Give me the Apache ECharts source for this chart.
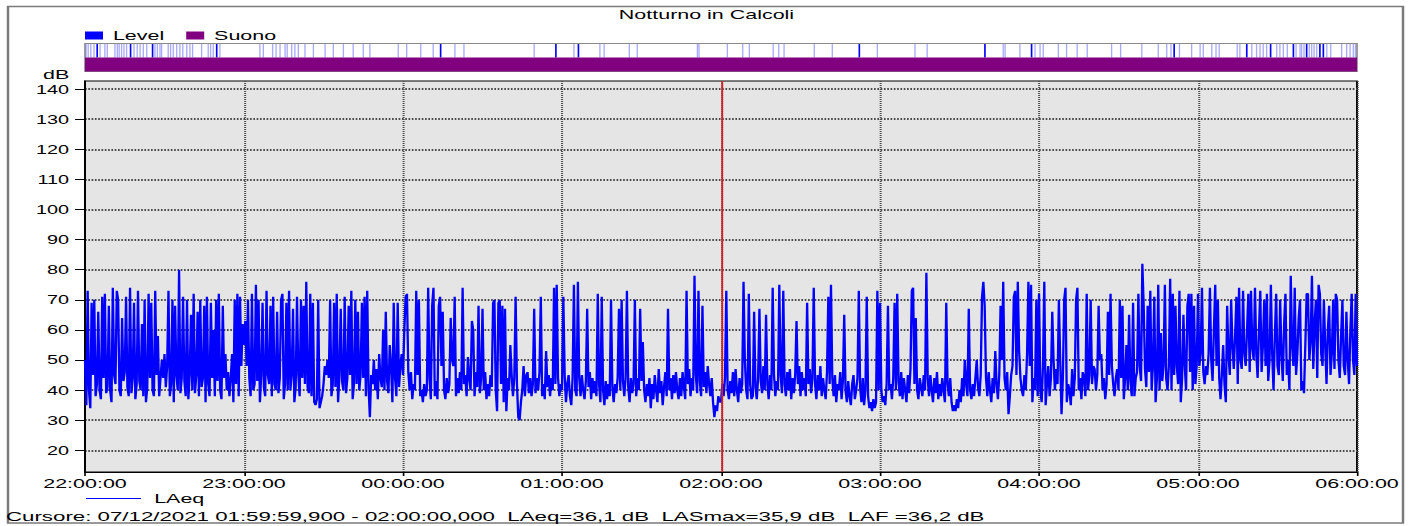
<!DOCTYPE html>
<html>
<head>
<meta charset="utf-8">
<script src="https://cdn.jsdelivr.net/npm/echarts@6/dist/echarts.min.js"></script>
<style>
html,body{margin:0;padding:0;background:#fff;overflow:hidden;}
#wrap{width:1413px;height:526px;overflow:hidden;background:#fff;position:relative;}
#chart{width:856px;height:526px;transform:scaleX(1.6507009);transform-origin:0 0;}
</style>
</head>
<body>
<div id="wrap"><div id="chart"></div></div>
<script>
// ---------------- DATA ----------------
const chartTitle = 'Notturno in Calcoli';
const cursorText = 'Cursore: 07/12/2021 01:59:59,900 - 02:00:00,000  LAeq=36,1 dB  LASmax=35,9 dB  LAF =36,2 dB';
const yTicks = [20, 30, 40, 50, 60, 70, 80, 90, 100, 110, 120, 130, 140];
const startHour = 22;            // x axis starts at 22:00:00
const stepMin = 0.5;             // one LAeq value every 30 s
const cursorMin = 240;           // cursor at 02:00:00

// LAeq (dB), one array per hour, 30 s resolution
const h22 = [50,35,73,40,34,69,45,70,38,42,
66,40,37,71,44,72,39,41,68,40,
36,74,45,42,73,70,40,38,64,43,
46,71,41,38,74,39,44,69,37,42,
73,43,40,62,38,70,36,41,72,44,
69,40,38,73,45,58,38,44,
50,44,52,41,48,
73,38,42,70,36,68,45,40,80,39,
44,71,43,38,70,37,45,65,40,72,
39,45,66,38,70,41,44,68,36,71,
42,38,69,44,60,38,70,43,72,40,
37,68,44,52,40,46,38,44,52,36,
70,42,72,38,71,48,62];
const h23 = [55,63,48,70,44,
38,72,40,42,75,43,70,36,45,69,
41,38,73,45,42,68,38,71,42,40,
66,39,44,70,72,37,42,69,40,73,
40,45,67,36,41,71,45,38,70,44,
68,42,76,41,39,
72,38,69,36,35,37,70,34,36,38,
42,48,45,50,44,
70,38,42,69,41,72,36,45,67,43,
40,71,39,44,68,45,73,37,42,70,
42,66,40,45,69,44,71,38,73,41,
31,45,42,50,40,47,37,52,44,41,
60,40,66,43,39,55,48,36,69,44,38,69,41,48,52];
const h00 = [45,60,71,72,46,40,46,37,42,40,
73,45,70,38,40,36,42,38,40,74,
44,37,68,74,38,43,37,68,71,48,
66,40,37,44,39,42,64,50,48,71,
38,44,39,46,40,74,42,45,38,51,
44,40,63,60,38,46,41,68,39,44,
67,40,46,37,42,38,45,41,69,70,
40,33,69,70,42,68,36,67,33,44,
40,55,45,38,44,71,42,31,30,36,
40,48,38,45,46,39,44,38,42,67,
39,44,40,46,71,38,42,37,53,41,
45,38,44,40,74,42,75,44,38,42];
const h01 = [40,71,45,36,42,45,38,35,44,75,
40,38,76,44,38,45,40,37,43,67,
41,46,37,44,39,43,38,72,42,36,
71,40,35,43,37,42,38,70,41,36,
42,39,44,67,40,70,43,38,44,73,
41,36,44,39,42,70,38,44,40,67,
43,56,40,36,42,38,44,34,42,37,
45,40,36,47,39,43,35,41,46,38,
67,40,44,37,45,39,46,40,37,44,
38,46,41,37,73,42,47,38,44,40,
78,45,39,73,43,38,68,41,46,39,
48,42,38,44,36,31,35,33,38,36];
const h02 = [36,42,38,44,73,40,37,43,39,46,
38,47,40,36,44,39,42,76,50,40,
37,72,42,37,38,66,41,37,44,67,
43,39,48,40,65,42,37,45,40,74,
45,38,43,40,75,45,39,73,42,38,
46,40,47,37,44,39,45,63,42,48,
38,46,40,44,38,69,42,47,39,44,
74,42,37,45,40,48,38,44,40,37,
46,71,42,75,44,38,45,36,42,40,
46,37,43,65,40,36,43,38,35,42,
45,37,40,44,73,41,36,44,35,40,
71,38,34,36,33,37,34,36,73,40];
const h03 = [69,40,36,38,35,42,68,40,42,37,
44,69,40,72,43,38,46,37,44,40,
36,45,39,47,73,74,42,64,40,37,
44,41,38,45,40,79,44,38,45,40,
36,44,39,46,37,42,38,44,40,36,
69,42,38,44,36,33,35,33,37,34,
40,36,44,38,50,42,38,67,40,37,
42,38,44,50,41,38,45,71,76,68,
44,38,46,40,36,44,39,53,42,37,
45,68,50,76,44,40,46,32,38,45,
48,71,73,45,76,53,44,40,38,45,
40,52,76,48,75,36,44,40,70,38];
const h04 = [72,40,36,48,76,35,42,48,38,44,
66,50,40,47,42,70,50,32,44,70,
74,36,42,40,35,47,38,44,70,74,
40,44,37,46,44,38,72,40,45,70,
42,48,47,40,45,68,50,52,40,44,
37,42,66,45,72,48,42,38,44,47,
40,70,44,68,37,44,55,40,65,43,
38,69,38,44,46,72,48,43,82,68,
47,41,68,46,73,40,48,71,36,44,
75,40,59,43,48,75,44,40,48,77,
40,72,45,68,48,42,73,36,44,65,
48,40,68,72,46,72,40,68,42,48];
const h05 = [72,48,52,74,46,42,48,45,52,74,
50,43,60,75,48,70,44,37,45,55,
42,36,68,52,45,70,55,47,58,71,
42,74,50,47,73,52,48,60,72,46,
73,54,50,74,52,44,60,73,46,55,
70,48,72,43,50,75,52,40,58,72,
48,45,70,52,43,62,72,45,50,40,
78,55,48,74,45,52,64,70,40,43,
39,55,72,72,50,56,78,47,62,70,
44,75,72,52,48,70,55,42,60,68,
45,52,70,47,72,70,50,44,58,70,
48,45,66,50,42,60,72,50,45,72];
const h06 = [48];

// "Level" event marks (minutes after 22:00:00)
const levelWeak = [0.4,1.2,2.2,3.4,5.7,7.5,8.4,11.3,12.2,12.9,13.8,14.7,15.7,18.5,19.7,20.8,22.0,23.3,26.4,27.3,28.3,28.9,
31.4,32.3,33.3,34.6,35.8,36.9,38.4,39.6,40.6,44.0,46.5,47.4,48.4,50.9,66.0,67.3,70.8,72.1,73.6,75.5,76.3,78.0,79.2,80.5,
83.0,86.2,90.6,93.7,97.5,101.2,105.0,107.5,118.2,121.4,126.7,131.4,139.6,143.0,169.5,184.5,194.3,195.9,205.4,208.4,
231.1,231.7,242.4,248.2,250.7,259.7,261.8,263.8,275.2,282.0,299.0,313.2,317.8,346.5,347.2,352.8,358.5,360.4,361.6,
367.3,370.4,374.4,378.2,387.4,390.8,398.8,405.0,408.2,409.8,413.0,417.6,420.8,422.0,425.2,426.8,428.0,434.8,435.8,
440.3,442.1,443.4,444.6,445.9,449.7,450.9,452.2,453.7,457.0,458.5,459.1,460.0,462.0,462.9,463.8,464.8,468.6,470.1,
474.2,476.1,477.4,478.6,479.4];
const levelStrong = [4.6,17.2,25.5,49.7,134.2,177.7,186.2,292.2,339.6,357.2,411.0,438.4,447.4,456.0,461.0,466.0,467.3];
// "Suono" span (minutes after 22:00:00)
const suonoSpan = [[0, 480]];

// ---------------- BUILD ----------------
const hours = [h22, h23, h00, h01, h02, h03, h04, h05, h06];
const laeq = [];
let k = 0;
hours.forEach(arr => arr.forEach(v => { laeq.push([k * stepMin, v]); k++; }));

const S = 1413 / 856;             // horizontal stretch of the reference
const X = px => px / S;           // layout helper (reference px -> canvas px)
const FONT = 'Liberation Sans, Arial, Helvetica, sans-serif';

const pad2 = n => (n < 10 ? '0' : '') + n;
function clock(v) {
  const total = Math.round(v * 60);
  const h = (startHour + Math.floor(total / 3600)) % 24;
  const m = Math.floor((total % 3600) / 60);
  const s = total % 60;
  return pad2(h) + ':' + pad2(m) + ':' + pad2(s);
}

const chart = echarts.init(document.getElementById('chart'), null, {renderer: 'svg'});
const option = {
  animation: false,
  backgroundColor: '#ffffff',
  textStyle: {fontFamily: FONT, color: '#000'},
  title: [
    {text: chartTitle, left: 'center', top: 8, padding: 0,
     textStyle: {fontSize: 13, fontWeight: 'normal', color: '#000', fontFamily: FONT}},
    {text: 'dB', left: X(43), top: 68, padding: 0,
     textStyle: {fontSize: 13, fontWeight: 'normal', color: '#000', fontFamily: FONT}},
    {text: cursorText, left: X(6), top: 509, padding: 0,
     textStyle: {fontSize: 13.5, fontWeight: 'normal', color: '#000', fontFamily: FONT}}
  ],
  legend: [
    {data: ['Level', 'Suono'], left: X(85), top: 29, padding: 0, icon: 'rect',
     itemWidth: X(18), itemHeight: 8, itemGap: X(22), selectedMode: false,
     textStyle: {fontSize: 13, color: '#000', fontFamily: FONT, padding: [0, 0, 0, 1]}},
    {data: ['LAeq'], left: X(85), top: 492, padding: 0,
     itemWidth: X(55), itemHeight: 10, selectedMode: false,
     itemStyle: {opacity: 0, borderWidth: 0},
     lineStyle: {color: '#0000ff', width: 1.2, opacity: 1},
     textStyle: {fontSize: 13, color: '#000', fontFamily: FONT, padding: [0, 0, 0, 3]}}
  ],
  graphic: [
    {type: 'rect', shape: {x: X(8), y: 6.5, width: X(1395), height: 516.5},
     style: {fill: 'none', stroke: '#7a7a7a', lineWidth: 1.5}, silent: true, z: -10}
  ],
  grid: [
    {left: X(85), right: 856 - X(1357), top: 81, bottom: 54, show: true,
     backgroundColor: '#e5e5e5', borderColor: '#000', borderWidth: 1.2},
    {left: X(85), right: 856 - X(1357), top: 43.5, height: 28, show: true,
     backgroundColor: '#ffffff', borderColor: '#8a8a8a', borderWidth: 1}
  ],
  xAxis: [
    {type: 'value', gridIndex: 0, min: 0, max: 480, interval: 60,
     axisLine: {show: true, lineStyle: {color: '#000', width: 1.2}},
     axisTick: {show: true, length: 4, lineStyle: {color: '#000'}},
     axisLabel: {formatter: clock, fontSize: 13, color: '#000', margin: 5, fontFamily: FONT},
     splitLine: {show: true, lineStyle: {color: '#4a4a4a', width: 1.2, type: [1, 1]}}},
    {type: 'value', gridIndex: 1, min: 0, max: 480, show: false}
  ],
  yAxis: [
    {type: 'value', gridIndex: 0, min: 12.8, max: 142.7,
     axisLine: {show: true, lineStyle: {color: '#000', width: 1.2}},
     axisTick: {show: true, length: X(10), customValues: yTicks, lineStyle: {color: '#000'}},
     axisLabel: {customValues: yTicks, fontSize: 12, color: '#000', margin: X(16), fontFamily: FONT},
     splitLine: {show: true, lineStyle: {color: '#4a4a4a', width: 2, type: [1, 1]}}},
    {type: 'value', gridIndex: 1, min: 0, max: 2, show: false}
  ],
  series: [
    {name: 'LAeq', type: 'line', xAxisIndex: 0, yAxisIndex: 0, data: laeq,
     symbol: 'none', showSymbol: false, sampling: null, silent: true,
     color: '#0000ff', lineStyle: {color: '#0000ff', width: 1.4},
     markLine: {silent: true, symbol: 'none', label: {show: false},
       lineStyle: {color: '#d42020', width: 1.1, type: 'solid'},
       data: [{xAxis: cursorMin}]}},
    {name: 'Level', type: 'custom', xAxisIndex: 1, yAxisIndex: 1, silent: true,
     color: '#0000ff', itemStyle: {color: '#0000ff'},
     data: levelWeak.map(t => [t, 0]).concat(levelStrong.map(t => [t, 1])),
     renderItem: function (params, api) {
       const top = api.coord([api.value(0), 2]);
       const bot = api.coord([api.value(0), 1]);
       const strong = api.value(1) === 1;
       return {type: 'line', shape: {x1: top[0], y1: top[1] + 0.5, x2: bot[0], y2: bot[1]},
         style: {stroke: strong ? '#0000ff' : '#7070ff', lineWidth: strong ? 1 : 0.8,
                 opacity: strong ? 1 : 0.6}};
     }},
    {name: 'Suono', type: 'custom', xAxisIndex: 1, yAxisIndex: 1, silent: true,
     color: '#800080', itemStyle: {color: '#800080'},
     data: suonoSpan,
     renderItem: function (params, api) {
       const p0 = api.coord([api.value(0), 1]);
       const p1 = api.coord([api.value(1), 0]);
       return {type: 'rect', shape: {x: p0[0], y: p0[1], width: p1[0] - p0[0], height: p1[1] - p0[1]},
         style: {fill: '#800080'}};
     }}
  ]
};
chart.setOption(option);
</script>
</body>
</html>
